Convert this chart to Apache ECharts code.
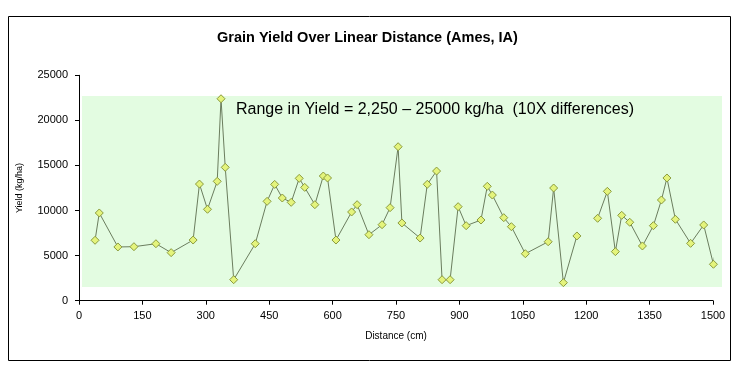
<!DOCTYPE html>
<html><head><meta charset="utf-8">
<script src="https://cdn.jsdelivr.net/npm/echarts@6/dist/echarts.min.js"></script>
<style>html,body{margin:0;padding:0;background:#fff}#c{width:735px;height:368px}</style>
</head><body><div id="c"></div>
<script>
const titleText = 'Grain Yield Over Linear Distance (Ames, IA)';
const xName = 'Distance (cm)';
const yName = 'Yield (kg/ha)';
const noteText = 'Range in Yield = 2,250 \u2013 25000 kg/ha  (10X differences)';
const xTicks = [0,150,300,450,600,750,900,1050,1200,1350,1500];
const yTicks = [0,5000,10000,15000,20000,25000];
const distance = [38,48,92,130,182,218,270,285,304,327,336,346,366,417,445,463,481,502,521,534,558,578,588,608,645,658,686,717,736,755,764,807,824,846,859,878,897,916,951,966,978,1005,1023,1056,1110,1123,1146,1178,1200,1227,1250,1269,1284,1303,1333,1359,1378,1391,1411,1447,1478,1501,1509];
const yieldVals = [6700,9730,5960,5990,6320,5330,6730,12940,10140,13240,22400,14790,2330,6320,11020,12900,11390,10910,13570,12570,10650,13830,13610,6730,9840,10650,7320,8430,10320,17080,8620,6950,12910,14380,2330,2330,10430,8320,8950,12690,11720,9210,8210,5210,6540,12500,2000,7180,null,9140,12130,5440,9470,8700,6070,8320,11170,13610,9030,6360,8400,4040,6730];

const chart = echarts.init(document.getElementById('c'));
const data = distance.map((d,i)=>[d, yieldVals[i]===null ? '-' : yieldVals[i]]);
const lastIdx = data.length-1;
const FONT = 'Liberation Sans, Arial, sans-serif';
chart.setOption({
  animation:false,
  backgroundColor:'#fff',
  title:{text:titleText,left:'center',top:25,textStyle:{fontFamily:FONT,fontSize:14.5,fontWeight:'bold',color:'#000'}},
  grid:{left:79,right:22,top:75.3,bottom:67.3,containLabel:false},
  graphic:[
    {type:'rect',left:6,top:14,shape:{width:722,height:344},style:{fill:'none',stroke:'#000',lineWidth:1},z:-10},
    {type:'rect',left:82,top:96,shape:{width:640,height:191},style:{fill:'#E3FCE1'},z:-5},
    {type:'text',left:236,top:102,style:{text:noteText,font:'16px Liberation Sans, Arial, sans-serif',fill:'#000'},z:5}
  ],
  xAxis:{type:'value',min:0,max:1500,interval:150,name:xName,nameLocation:'middle',nameGap:31,
    nameTextStyle:{fontFamily:FONT,fontSize:10,color:'#000'},
    axisLine:{lineStyle:{color:'#000',width:1}},axisTick:{show:true,length:4,lineStyle:{color:'#000'}},
    axisLabel:{fontFamily:FONT,fontSize:11,color:'#000',margin:10,formatter:v=>String(v)},splitLine:{show:false}},
  yAxis:{type:'value',min:0,max:25000,interval:5000,name:yName,nameLocation:'middle',nameGap:55,
    nameTextStyle:{fontFamily:FONT,fontSize:9,color:'#000'},
    axisLine:{show:true,lineStyle:{color:'#000',width:1}},axisTick:{show:true,length:4,lineStyle:{color:'#000'}},
    axisLabel:{fontFamily:FONT,fontSize:11,color:'#000',margin:11,formatter:v=>String(v)},splitLine:{show:false}},
  series:[{type:'line',data:data,clip:false,connectNulls:false,
    symbol:(v,p)=>p.dataIndex===lastIdx?'none':'diamond',symbolSize:8,
    lineStyle:{color:'#6B7D5E',width:1},
    itemStyle:{color:'#E4F47C',borderColor:'#8A9A3C',borderWidth:1},z:3}]
});
</script></body></html>
